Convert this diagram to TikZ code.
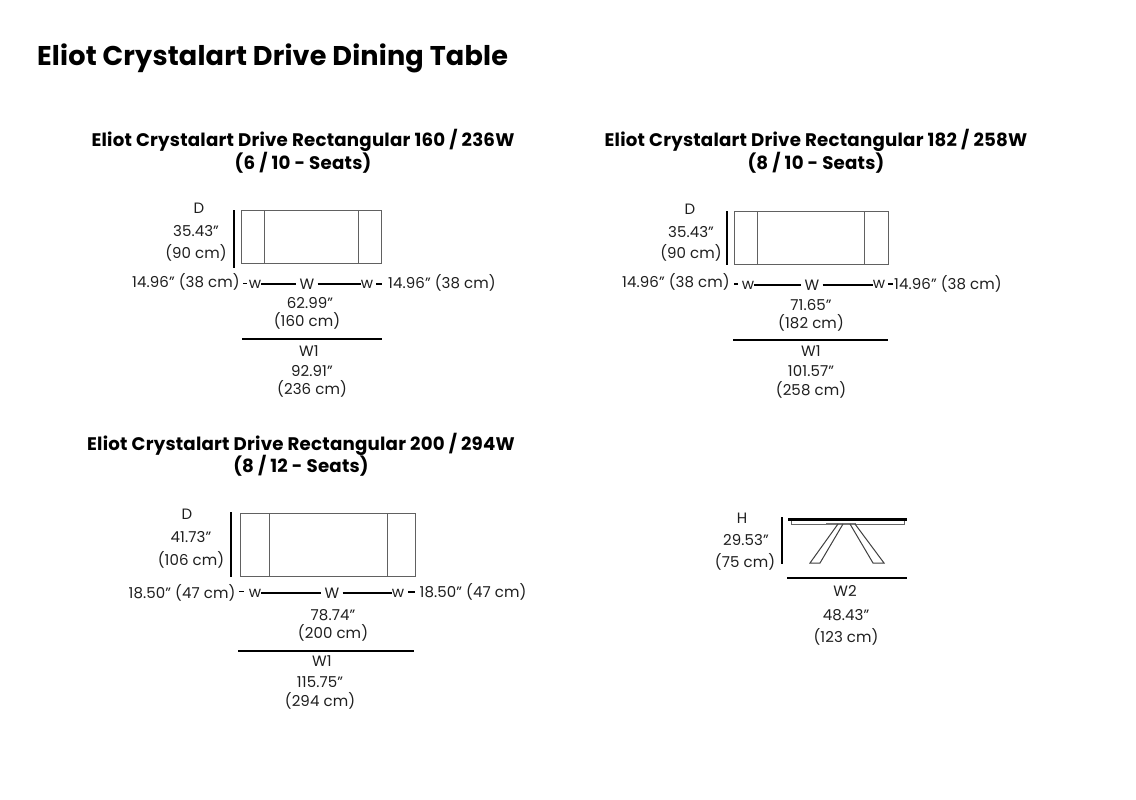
\documentclass[tikz,border=0pt]{standalone}
\usepackage{fontspec}
\setmainfont{Poppins}
\newcommand{\qq}{\char34\relax}
\tikzset{
  x=1pt,y=-1pt,
  lab/.style={inner sep=0pt,text=black!88,font=\fontsize{15}{16}\selectfont\addfontfeatures{LetterSpace=0.6},text height=10.5pt,text depth=0pt},
  wmid/.style={lab,inner xsep=3pt},
  subt/.style={inner sep=0pt,text=black,font=\fontsize{18.2}{20}\selectfont\bfseries\addfontfeatures{LetterSpace=1.2}},
  maint/.style={inner sep=0pt,anchor=west,text=black,font=\fontsize{27.1}{30}\selectfont\bfseries\addfontfeatures{LetterSpace=0.6}},
  dim/.style={line width=1.5pt,black},
  dimthick/.style={line width=2pt,black},
  tbl/.style={draw=black!62,line width=1pt,inner sep=0pt,outer sep=0pt,anchor=north west},
  div/.style={draw=black!62,line width=1pt},
}
\begin{document}
\begin{tikzpicture}
\useasboundingbox (0,0) rectangle (1136,800);
\fill[white] (0,0) rectangle (1136,800);

\node[maint] (title) at (37,58) {Eliot Crystalart Drive Dining Table};

% ---------- Table 1
\node[subt] (t1a) at (303,140) {Eliot Crystalart Drive Rectangular 160 / 236W};
\node[subt] (t1b) at (303,163) {(6 / 10 - Seats)};
\node[tbl,minimum width=139.5pt,minimum height=53pt] (r1) at (241.5,210) {};
\coordinate (r1a) at (264,210); \coordinate (r1b) at (264,263);
\coordinate (r1c) at (358.5,210); \coordinate (r1d) at (358.5,263);
\draw[div] (r1a) -- (r1b); \draw[div] (r1c) -- (r1d);
\coordinate (d1a) at (234,210); \coordinate (d1b) at (234,268);
\draw[dimthick] (d1a) -- (d1b);
\node[lab] (D1) at (199,208) {D};
\node[lab] (D1i) at (196,231) {35.43\qq};
\node[lab] (D1c) at (196,253) {(90 cm)};
\node[lab] (L1) at (186,282) {14.96\qq\ (38 cm)};
\coordinate (k1a) at (243,283.5); \coordinate (k1b) at (247,283.5);
\draw[dim] (k1a) -- (k1b);
\node[lab] (wl1) at (255,283) {w};
\node[wmid] (W1m) at (307,284) {W};
\node[lab] (wr1) at (367,283) {w};
\draw[dim] (W1m.west -| wl1.east) -- (W1m.west);
\draw[dim] (W1m.east) -- (W1m.east -| wr1.west);
\coordinate (k1c) at (376,284); \coordinate (k1d) at (382,284);
\draw[dim] (k1c) -- (k1d);
\node[lab] (R1) at (442,283) {14.96\qq\ (38 cm)};
\node[lab] (a1) at (310,303) {62.99\qq};
\node[lab] (b1) at (307,321) {(160 cm)};
\coordinate (l1a) at (242,339); \coordinate (l1b) at (382,339);
\draw[dimthick] (l1a) -- (l1b);
\node[lab] (W11) at (309,351) {W1};
\node[lab] (c1) at (312,371) {92.91\qq};
\node[lab] (e1) at (312,389) {(236 cm)};

% ---------- Table 2
\node[subt] (t2a) at (816,140) {Eliot Crystalart Drive Rectangular 182 / 258W};
\node[subt] (t2b) at (816,163) {(8 / 10 - Seats)};
\node[tbl,minimum width=153.5pt,minimum height=53pt] (r2) at (734.5,211) {};
\coordinate (r2a) at (757,211); \coordinate (r2b) at (757,264);
\coordinate (r2c) at (864,211); \coordinate (r2d) at (864,264);
\draw[div] (r2a) -- (r2b); \draw[div] (r2c) -- (r2d);
\coordinate (d2a) at (727,211); \coordinate (d2b) at (727,265);
\draw[dimthick] (d2a) -- (d2b);
\node[lab] (D2) at (690,209) {D};
\node[lab] (D2i) at (691,232) {35.43\qq};
\node[lab] (D2c) at (691,253) {(90 cm)};
\node[lab] (L2) at (676,282) {14.96\qq\ (38 cm)};
\coordinate (k2a) at (734,284); \coordinate (k2b) at (738,284);
\draw[dim] (k2a) -- (k2b);
\node[lab] (wl2) at (748,284) {w};
\node[wmid] (W2m) at (812,285) {W};
\node[lab] (wr2) at (879,283) {w};
\draw[dim] (W2m.west -| wl2.east) -- (W2m.west);
\draw[dim] (W2m.east) -- (W2m.east -| wr2.west);
\coordinate (k2c) at (888,284); \coordinate (k2d) at (893,284);
\draw[dim] (k2c) -- (k2d);
\node[lab] (R2) at (948,284) {14.96\qq\ (38 cm)};
\node[lab] (a2) at (811,305) {71.65\qq};
\node[lab] (b2) at (811,323) {(182 cm)};
\coordinate (l2a) at (733,340); \coordinate (l2b) at (888,340);
\draw[dimthick] (l2a) -- (l2b);
\node[lab] (W12) at (811,351) {W1};
\node[lab] (c2) at (811,371) {101.57\qq};
\node[lab] (e2) at (811,390) {(258 cm)};

% ---------- Table 3
\node[subt] (t3a) at (301,444) {Eliot Crystalart Drive Rectangular 200 / 294W};
\node[subt] (t3b) at (301,466) {(8 / 12 - Seats)};
\node[tbl,minimum width=175pt,minimum height=62.5pt] (r3) at (240.5,513.5) {};
\coordinate (r3a) at (269,513.5); \coordinate (r3b) at (269,576);
\coordinate (r3c) at (387,513.5); \coordinate (r3d) at (387,576);
\draw[div] (r3a) -- (r3b); \draw[div] (r3c) -- (r3d);
\coordinate (d3a) at (231,512); \coordinate (d3b) at (231,577);
\draw[dimthick] (d3a) -- (d3b);
\node[lab] (D3) at (187,514) {D};
\node[lab] (D3i) at (191,537) {41.73\qq};
\node[lab] (D3c) at (191,560) {(106 cm)};
\node[lab] (L3) at (182,593) {18.50\qq\ (47 cm)};
\coordinate (k3a) at (239,591.5); \coordinate (k3b) at (244,591.5);
\draw[dim] (k3a) -- (k3b);
\node[lab] (wl3) at (255,592) {w};
\node[wmid] (W3m) at (332,593) {W};
\node[lab] (wr3) at (398,592) {w};
\draw[dim] (W3m.west -| wl3.east) -- (W3m.west);
\draw[dim] (W3m.east) -- (W3m.east -| wr3.west);
\coordinate (k3c) at (408,592); \coordinate (k3d) at (415,592);
\draw[dim] (k3c) -- (k3d);
\node[lab] (R3) at (473,592) {18.50\qq\ (47 cm)};
\node[lab] (a3) at (333,615) {78.74\qq};
\node[lab] (b3) at (333,633) {(200 cm)};
\coordinate (l3a) at (238,651); \coordinate (l3b) at (414,651);
\draw[dimthick] (l3a) -- (l3b);
\node[lab] (W13) at (322,661) {W1};
\node[lab] (c3) at (320,682) {115.75\qq};
\node[lab] (e3) at (320,701) {(294 cm)};

% ---------- Side view
\coordinate (hA) at (782,517); \coordinate (hB) at (782,564);
\draw[dimthick] (hA) -- (hB);
\node[lab] (H) at (742,518) {H};
\node[lab] (Hi) at (746,540) {29.53\qq};
\node[lab] (Hc) at (745,562) {(75 cm)};
\draw[draw=black!60,line width=.8pt] (791,520) rectangle (904,524);
\fill[black!55] (826,522.5) rectangle (856,524.5);
\draw[line width=2.6pt,black] (788,519.5) -- (907,519.5);
\draw[draw=black!75,line width=1pt,line join=miter] (838,524) -- (810,563) -- (820,563) -- (843,524);
\draw[draw=black!75,line width=1pt,line join=miter] (850,524) -- (873,563) -- (884,563) -- (855,524);
\coordinate (wA) at (787,578); \coordinate (wB) at (907,578);
\draw[dimthick] (wA) -- (wB);
\node[lab] (W2n) at (845,591) {W2};
\node[lab] (W2i) at (846,615) {48.43\qq};
\node[lab] (W2c) at (846,637) {(123 cm)};
\end{tikzpicture}
\end{document}
